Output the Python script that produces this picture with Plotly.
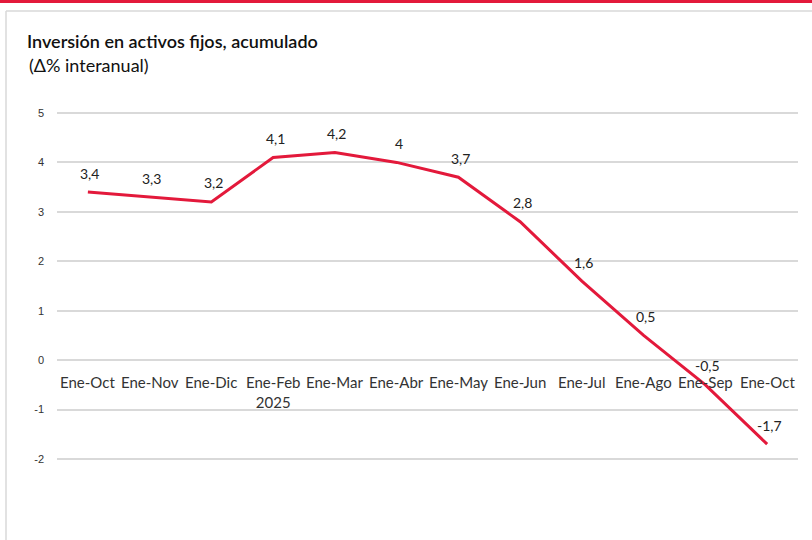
import plotly.graph_objects as go

categories = ["Ene-Oct", "Ene-Nov", "Ene-Dic", "Ene-Feb", "Ene-Mar", "Ene-Abr",
              "Ene-May", "Ene-Jun", "Ene-Jul", "Ene-Ago", "Ene-Sep", "Ene-Oct"]
year_labels = ["", "", "", "2025", "", "", "", "", "", "", "", ""]
values = [3.4, 3.3, 3.2, 4.1, 4.2, 4.0, 3.7, 2.8, 1.6, 0.5, -0.5, -1.7]
y_ticks = [-2, -1, 0, 1, 2, 3, 4, 5]

positions = list(range(len(categories)))
point_text = [("%g" % v).replace(".", ",") for v in values]

FONT = "Lato"
RED = "#E3193B"

fig = go.Figure()
fig.add_trace(go.Scatter(
    x=positions, y=values, mode="lines",
    line=dict(color=RED, width=3),
    hoverinfo="skip", showlegend=False,
))

annotations = []
# data labels above each point
for i, (v, t) in enumerate(zip(values, point_text)):
    annotations.append(dict(x=i, y=v, xref="x", yref="y", text=t, showarrow=False,
                            yanchor="middle", yshift=19, xshift=2,
                            font=dict(family=FONT, size=14, color="#222")))

# category labels sitting on the zero line
for i, (c, yl) in enumerate(zip(categories, year_labels)):
    label = c if not yl else c + "<br>" + yl
    annotations.append(dict(x=i, y=0, xref="x", yref="y", text=label, showarrow=False,
                            yanchor="top", yshift=-11, align="center",
                            font=dict(family=FONT, size=15, color="#333")))

# plot area: x 57..798 px, y 111..461 px
def px_x(p):
    return (p - 57) / 741.0

def px_y(p):
    return (461 - p) / 350.0

annotations.append(dict(text="(Δ% interanual)", xref="paper", yref="paper",
                        x=px_x(27), y=px_y(65), xanchor="left", yanchor="middle",
                        showarrow=False, font=dict(family=FONT, size=18, color="#111")))

shapes = [
    dict(type="rect", xref="paper", yref="paper", x0=px_x(0), x1=px_x(812),
         y0=px_y(3), y1=px_y(0), fillcolor=RED, line=dict(width=0), layer="above"),
    dict(type="line", xref="paper", yref="paper", x0=px_x(6), x1=px_x(812),
         y0=px_y(11), y1=px_y(11), line=dict(color="#d9d9d9", width=1.5)),
    dict(type="line", xref="paper", yref="paper", x0=px_x(6), x1=px_x(6),
         y0=px_y(11), y1=px_y(540), line=dict(color="#d9d9d9", width=1.5)),
]

fig.update_layout(
    width=812, height=540,
    margin=dict(l=57, r=14, t=111, b=79),
    paper_bgcolor="white", plot_bgcolor="white",
    shapes=shapes,
    annotations=annotations,
    title=dict(text="Inversión en activos fijos, acumulado", x=27/812, xanchor="left",
               y=1-42/540, yanchor="middle",
               font=dict(family=FONT, size=18, color="#111", weight=600)),
    xaxis=dict(range=[-0.5, len(categories) - 0.5], showgrid=False, zeroline=False,
               showticklabels=False, showline=False, fixedrange=True),
    yaxis=dict(range=[-2.04, 5.04], tickvals=y_ticks,
               ticktext=[str(t) for t in y_ticks], automargin=False,
               showgrid=True, gridcolor="#d9d9d9", gridwidth=1.5,
               zeroline=False, showline=False, ticks="", ticklabelstandoff=12,
               tickfont=dict(family="Liberation Sans", size=11, color="#333")),
)

fig.write_html("out.html", config={"displayModeBar": False},
               post_script="document.body.style.margin='0';document.body.style.overflow='hidden';")
